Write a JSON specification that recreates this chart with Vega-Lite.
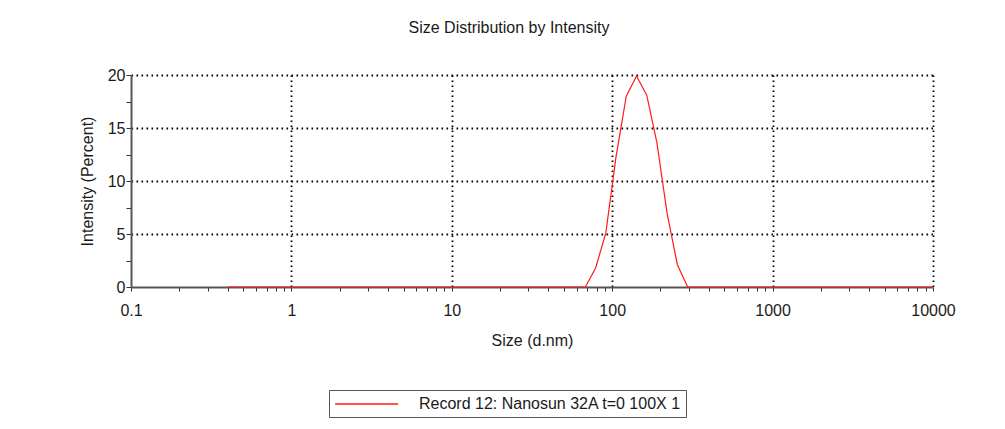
{
  "$schema": "https://vega.github.io/schema/vega-lite/v6.json",
  "width": 802,
  "height": 212,
  "autosize": {"type": "none"},
  "padding": {"left": 131, "top": 75, "right": 72, "bottom": 142},
  "background": "white",
  "title": {
    "text": "Size Distribution by Intensity",
    "font": "Liberation Sans",
    "fontSize": 16,
    "fontWeight": "normal",
    "color": "#1a1a1a",
    "offset": 31,
    "dx": -23
  },
  "data": {
    "values": [
      {"size": 0.4, "intensity": 0}, {"size": 0.4632, "intensity": 0}, {"size": 0.5365, "intensity": 0},
      {"size": 0.6213, "intensity": 0}, {"size": 0.7195, "intensity": 0}, {"size": 0.8332, "intensity": 0},
      {"size": 0.9649, "intensity": 0}, {"size": 1.117, "intensity": 0}, {"size": 1.294, "intensity": 0},
      {"size": 1.499, "intensity": 0}, {"size": 1.736, "intensity": 0}, {"size": 2.01, "intensity": 0},
      {"size": 2.328, "intensity": 0}, {"size": 2.696, "intensity": 0}, {"size": 3.122, "intensity": 0},
      {"size": 3.615, "intensity": 0}, {"size": 4.187, "intensity": 0}, {"size": 4.849, "intensity": 0},
      {"size": 5.615, "intensity": 0}, {"size": 6.503, "intensity": 0}, {"size": 7.531, "intensity": 0},
      {"size": 8.721, "intensity": 0}, {"size": 10.1, "intensity": 0}, {"size": 11.7, "intensity": 0},
      {"size": 13.54, "intensity": 0}, {"size": 15.69, "intensity": 0}, {"size": 18.17, "intensity": 0},
      {"size": 21.04, "intensity": 0}, {"size": 24.36, "intensity": 0}, {"size": 28.21, "intensity": 0},
      {"size": 32.67, "intensity": 0}, {"size": 37.84, "intensity": 0}, {"size": 43.82, "intensity": 0},
      {"size": 50.75, "intensity": 0}, {"size": 58.77, "intensity": 0}, {"size": 68.06, "intensity": 0},
      {"size": 78.82, "intensity": 1.8}, {"size": 91.28, "intensity": 5.1}, {"size": 105.7, "intensity": 12.3},
      {"size": 122.4, "intensity": 18.0}, {"size": 141.8, "intensity": 19.9}, {"size": 164.2, "intensity": 18.1},
      {"size": 190.1, "intensity": 13.6}, {"size": 220.2, "intensity": 6.9}, {"size": 255.0, "intensity": 2.1},
      {"size": 295.3, "intensity": 0}, {"size": 342.0, "intensity": 0}, {"size": 396.1, "intensity": 0},
      {"size": 458.7, "intensity": 0}, {"size": 531.2, "intensity": 0}, {"size": 615.1, "intensity": 0},
      {"size": 712.4, "intensity": 0}, {"size": 825.0, "intensity": 0}, {"size": 955.4, "intensity": 0},
      {"size": 1106, "intensity": 0}, {"size": 1281, "intensity": 0}, {"size": 1484, "intensity": 0},
      {"size": 1718, "intensity": 0}, {"size": 1990, "intensity": 0}, {"size": 2305, "intensity": 0},
      {"size": 2669, "intensity": 0}, {"size": 3091, "intensity": 0}, {"size": 3580, "intensity": 0},
      {"size": 4145, "intensity": 0}, {"size": 4801, "intensity": 0}, {"size": 5560, "intensity": 0},
      {"size": 6439, "intensity": 0}, {"size": 7456, "intensity": 0}, {"size": 8635, "intensity": 0},
      {"size": 10000, "intensity": 0}
    ]
  },
  "mark": {"type": "line", "strokeWidth": 1.2, "clip": false},
  "encoding": {
    "x": {
      "field": "size",
      "type": "quantitative",
      "scale": {"type": "log", "domain": [0.1, 10000], "nice": false},
      "axis": {
        "title": "Size (d.nm)",
        "values": [0.1, 0.2, 0.3, 0.4, 0.5, 0.6, 0.7, 0.8, 0.9, 1, 2, 3, 4, 5, 6, 7, 8, 9, 10, 20, 30, 40, 50, 60, 70, 80, 90, 100, 200, 300, 400, 500, 600, 700, 800, 900, 1000, 2000, 3000, 4000, 5000, 6000, 7000, 8000, 9000, 10000],
        "format": "~g",
        "labelExpr": "indexof([0.1, 1, 10, 100, 1000, 10000], datum.value) >= 0 ? datum.label : ''",
        "labelOverlap": false,
        "labelBound": false,
        "labelFlush": false,
        "labelPadding": 11,
        "tickSize": 4,
        "grid": true,
        "gridOpacity": {"condition": {"test": "indexof([1, 10, 100, 1000, 10000], datum.value) >= 0", "value": 1}, "value": 0},
        "titlePadding": 14
      }
    },
    "y": {
      "field": "intensity",
      "type": "quantitative",
      "scale": {"domain": [0, 20], "nice": false},
      "axis": {
        "title": "Intensity (Percent)",
        "values": [0, 2.5, 5, 7.5, 10, 12.5, 15, 17.5, 20],
        "labelExpr": "datum.value % 5 === 0 ? datum.label : ''",
        "labelOverlap": false,
        "labelPadding": 1,
        "tickSize": 5,
        "grid": true,
        "gridOpacity": {"condition": {"test": "datum.value > 0 && datum.value % 5 === 0", "value": 1}, "value": 0},
        "titlePadding": 12
      }
    },
    "stroke": {
      "datum": "Record 12: Nanosun 32A t=0 100X 1",
      "type": "nominal",
      "scale": {"range": ["#ff1a1a"]},
      "legend": {
        "title": null,
        "orient": "none",
        "legendX": 198,
        "legendY": 315,
        "strokeColor": "#555555",
        "padding": 5,
        "symbolType": "M-1,0L7,0",
        "symbolSize": 248,
        "symbolStrokeWidth": 1.5,
        "labelFontSize": 16,
        "labelFont": "Liberation Sans",
        "labelColor": "#1a1a1a",
        "labelLimit": 400,
        "labelOffset": 67
      }
    }
  },
  "config": {
    "view": {"stroke": null},
    "axis": {
      "labelFont": "Liberation Sans",
      "labelFontSize": 16,
      "labelColor": "#1a1a1a",
      "titleFont": "Liberation Sans",
      "titleFontSize": 16,
      "titleFontWeight": "normal",
      "titleColor": "#1a1a1a",
      "domainColor": "#555555",
      "domainWidth": 2,
      "tickColor": "#333333",
      "tickWidth": 1,
      "gridColor": "#000000",
      "gridWidth": 1.8,
      "gridDash": [1.6, 3.4]
    }
  }
}
